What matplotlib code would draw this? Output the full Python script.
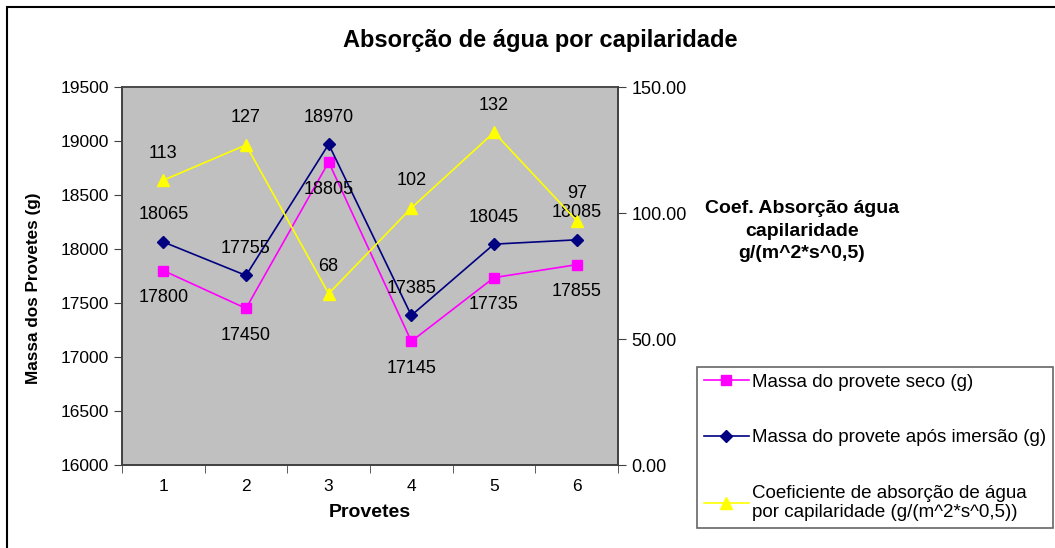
import numpy as np
import matplotlib.pyplot as plt
from matplotlib.patches import Rectangle

plt.rcParams['font.family'] = ['Liberation Sans', 'DejaVu Sans']

provetes = ['1', '2', '3', '4', '5', '6']
massa_seco = [17800, 17450, 18805, 17145, 17735, 17855]
massa_imersao = [18065, 17755, 18970, 17385, 18045, 18085]
coef_absorcao = [113, 127, 68, 102, 132, 97]

W, H = 1055, 548
fig = plt.figure(figsize=(W / 100, H / 100), dpi=100)

# outer chart frame (runs off the right/bottom edges)
fig.patches.append(Rectangle((7 / W, -0.05), 1.1, 1 - 7 / H + 0.05,
                             transform=fig.transFigure, fill=False,
                             edgecolor='black', linewidth=1.5, zorder=0))

ax = fig.add_axes([122 / W, 1 - 465 / H, (618 - 122) / W, (465 - 87) / H])
ax.set_facecolor('#c0c0c0')
ax2 = ax.twinx()

x = np.arange(1, len(provetes) + 1)

l1, = ax.plot(x, massa_seco, color='#ff00ff', marker='s', markersize=7,
              linewidth=1.2, label='Massa do provete seco (g)')
l2, = ax.plot(x, massa_imersao, color='#000080', marker='D', markersize=6,
              linewidth=1.2, label='Massa do provete após imersão (g)')
l3, = ax2.plot(x, coef_absorcao, color='#ffff00', marker='^', markersize=9,
               linewidth=1.2,
               label='Coeficiente de absorção de água\npor capilaridade (g/(m^2*s^0,5))')

for xi, v in zip(x, massa_seco):
    ax.annotate(f'{v}', (xi, v), xytext=(0, -19.5), textcoords='offset points',
                ha='center', va='center', fontsize=13)
for xi, v in zip(x, massa_imersao):
    ax.annotate(f'{v}', (xi, v), xytext=(0, 19.5), textcoords='offset points',
                ha='center', va='center', fontsize=13)
for xi, v in zip(x, coef_absorcao):
    ax2.annotate(f'{v}', (xi, v), xytext=(0, 19.5), textcoords='offset points',
                 ha='center', va='center', fontsize=13)

ax.set_xlim(0.5, 6.5)
ax.set_ylim(16000, 19500)
ax.set_yticks(np.arange(16000, 19501, 500))
ax.set_xticks(x)
ax.set_xticklabels(provetes)
ax.set_xticks(np.arange(0.5, 6.6, 1), minor=True)
ax.tick_params(axis='x', which='major', length=0, pad=10, labelsize=12.5)
ax.tick_params(axis='x', which='minor', length=6, direction='out', color='#404040')
ax.tick_params(axis='y', length=6, direction='out', labelsize=12.5, color='#404040')

ax2.set_ylim(0, 150)
ax2.set_yticks([0, 50, 100, 150])
ax2.set_yticklabels([f'{t:.2f}' for t in [0, 50, 100, 150]])
ax2.tick_params(axis='y', length=6, direction='out', labelsize=13, color='#404040')

for a in (ax, ax2):
    for s in a.spines.values():
        s.set_color('#404040')
        s.set_linewidth(1.2)
ax.spines['top'].set_color('#808080')

ax.set_xlabel('Provetes', fontsize=14, fontweight='bold', labelpad=7)
ax.set_ylabel('Massa dos Provetes (g)', fontsize=12.3, fontweight='bold')
ax.yaxis.set_label_coords(-0.163, 0.468)

fig.text(540 / W, 1 - 40 / H, 'Absorção de água por capilaridade',
         ha='center', va='center', fontsize=17, fontweight='bold')
fig.text(802 / W, 1 - 231 / H, 'Coef. Absorção água\ncapilaridade\ng/(m^2*s^0,5)',
         ha='center', va='center', fontsize=14, fontweight='bold', linespacing=1.4)

leg = fig.legend(handles=[l1, l2, l3], loc='upper left',
                 bbox_to_anchor=(697 / W, 1 - 367 / H), fontsize=13.5,
                 frameon=True, fancybox=False, edgecolor='#404040',
                 labelspacing=2.05, handlelength=2.4, handletextpad=0.2,
                 borderpad=0.35, borderaxespad=0)
leg.get_frame().set_linewidth(1.2)

fig.savefig('out.png', dpi=100)
